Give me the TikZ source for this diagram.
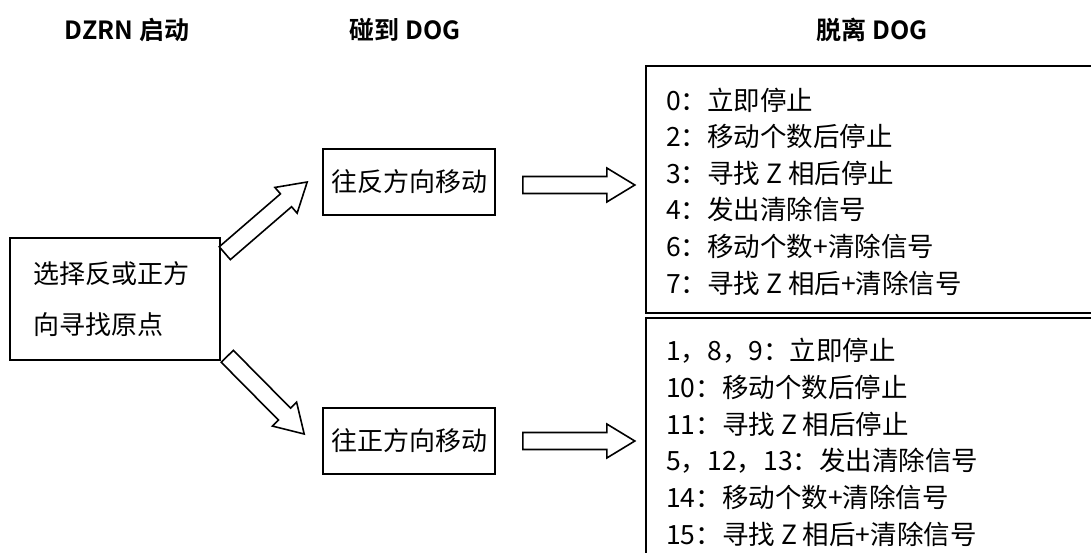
\documentclass[tikz,border=0pt]{standalone}
\usepackage{fontspec}
\setmainfont{Noto Sans CJK SC}[BoldFont={Noto Sans CJK SC Bold}]
\usetikzlibrary{calc,positioning}

% hollow block arrow from tail #1 to tip #2
\newcommand{\blockarrow}[2]{%
  \coordinate (#1-b) at ($(#2)!28pt!(#1)$);
  \draw[blockarrow] ($(#1)!8.5pt!90:(#2)$) -- ($(#1-b)!8.5pt!-90:(#1)$)
    -- ($(#1-b)!17pt!-90:(#1)$) -- (#2) -- ($(#1-b)!17pt!90:(#1)$)
    -- ($(#1-b)!8.5pt!90:(#1)$) -- ($(#1)!8.5pt!-90:(#2)$) -- cycle;
}

\begin{document}
\begin{tikzpicture}[x=1pt, y=-1pt,
    box/.style={draw, line width=1.6pt, inner sep=0pt},
    heading/.style={font=\fontsize{25}{28}\selectfont\bfseries},
    boxtext/.style={font=\fontsize{26}{51}\selectfont},
    item/.style={anchor=west, inner sep=0pt, font=\fontsize{26.5}{30}\selectfont},
    blockarrow/.style={draw, line width=1.6pt, fill=white, line join=miter}
  ]
  \clip (0,0) rectangle (1091,553);

  % headings
  \node[heading] (hstart) at (127,30) {DZRN 启动};
  \node[heading] (hhit)   at (405,30) {碰到 DOG};
  \node[heading] (hleave) at (872,30) {脱离 DOG};

  % boxes
  \node[box, boxtext, minimum width=210pt, minimum height=122pt,
        text width=164pt, align=left] (start) at (115,299) {选择反或正方\\向寻找原点};
  \node[box, boxtext, minimum width=172pt, minimum height=66pt] (rev) at (409,182) {往反方向移动};
  \node[box, boxtext, minimum width=172pt, minimum height=66pt] (fwd) at (409,441) {往正方向移动};
  \node[box, anchor=north west, minimum width=460pt, minimum height=247pt] (stopA) at (645,65) {};
  \node[box, anchor=north west, minimum width=460pt, minimum height=300pt] (stopB) at (645,317) {};

  % stop modes
  \foreach \t [count=\i from 0] in {0：立即停止, 2：移动个数后停止, 3：寻找 Z 相后停止,
      4：发出清除信号, 6：移动个数+清除信号, 7：寻找 Z 相后+清除信号}
    \node[item] (a\i) at (666,{100+36.6*\i}) {\t};
  \foreach \t [count=\i from 0] in {1，8，9：立即停止, 10：移动个数后停止, 11：寻找 Z 相后停止,
      5，12，13：发出清除信号, 14：移动个数+清除信号, 15：寻找 Z 相后+清除信号}
    \node[item] (b\i) at (666,{351+36.6*\i}) {\t};

  % arrows
  \coordinate (up-t) at ([shift={(4,16)}]start.north east);
  \coordinate (up-e) at ([shift={(-15,0)}]rev.west);
  \coordinate (dn-t) at ([shift={(6.5,-4.5)}]start.south east);
  \coordinate (dn-e) at ([shift={(-18,-7)}]fwd.west);
  \coordinate (r1-t) at ([shift={(27,3)}]rev.east);
  \coordinate (r1-e) at ([shift={(139,3)}]rev.east);
  \coordinate (r2-t) at ([shift={(27,0)}]fwd.east);
  \coordinate (r2-e) at ([shift={(139,0)}]fwd.east);
  \blockarrow{up-t}{up-e}
  \blockarrow{dn-t}{dn-e}
  \blockarrow{r1-t}{r1-e}
  \blockarrow{r2-t}{r2-e}
\end{tikzpicture}
\end{document}
